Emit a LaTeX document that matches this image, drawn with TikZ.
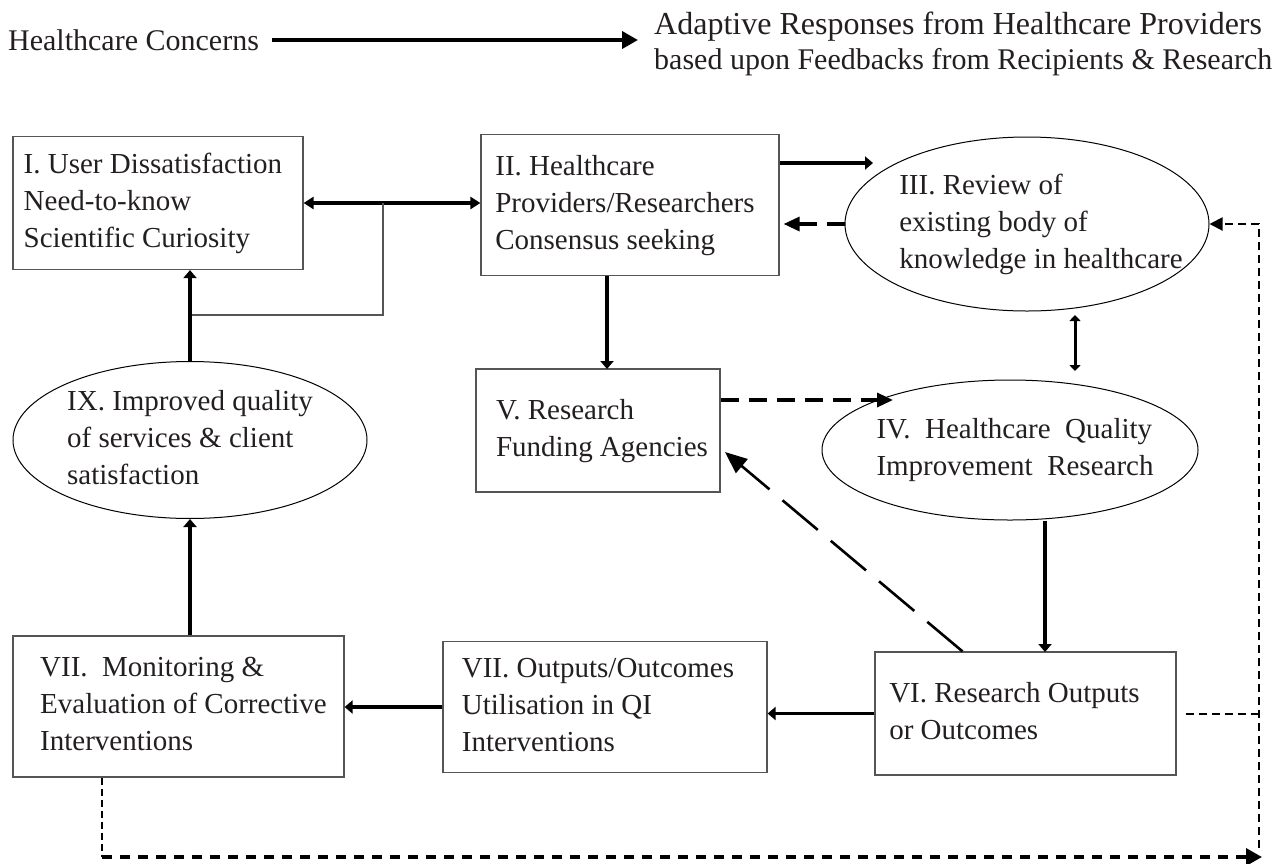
\documentclass[tikz,border=0pt]{standalone}
\usepackage{fontspec}
\setmainfont{Liberation Serif}
\usetikzlibrary{shapes.geometric,arrows.meta}

\newlength{\du}
\setlength{\du}{1pt}

\definecolor{dialinecolor}{rgb}{0.000000, 0.000000, 0.000000}
\definecolor{diatextcolor}{rgb}{0.137255, 0.121569, 0.125490}
\definecolor{diaboxcolor}{rgb}{0.333333, 0.333333, 0.333333}

% lines of a box or an ellipse, kept out of the shape's size
\newcommand{\dialines}[2][0pt]{\makebox[0pt]{\hspace{#1}\begin{tabular}{@{}l@{}}#2\end{tabular}}}

\tikzset{
  diabox/.style={draw=diaboxcolor, line width=1.2pt, inner sep=0pt,
    text=diatextcolor, font=\fontsize{29}{37}\selectfont},
  diaoval/.style={ellipse, draw=dialinecolor, line width=1pt, inner sep=0pt,
    text=diatextcolor, font=\fontsize{29}{37}\selectfont},
  diatext/.style={inner sep=0pt, align=left, text=diatextcolor,
    font=\fontsize{30}{35}\selectfont},
  boldarrow/.style={draw=dialinecolor, line width=3.6pt,
    -{Triangle[length=8pt,width=13pt]}},
  botharrow/.style={draw=dialinecolor, line width=3.3pt,
    {Triangle[length=10pt,width=12pt]}-{Triangle[length=10pt,width=12pt]}},
  dasharrow/.style={draw=dialinecolor, line width=3.3pt, dash pattern=on 18pt off 10pt,
    -{Triangle[length=16pt,width=14pt]}},
  loopline/.style={draw=dialinecolor, line width=2pt, dash pattern=on 8pt off 5pt}
}

\begin{document}
\begin{tikzpicture}
\pgftransformxscale{1.000000}
\pgftransformyscale{-1.000000}
\useasboundingbox (0\du,0\du) rectangle (1273\du,863\du);

% heading
\node[diatext, anchor=west] (concerns) at (8\du,40\du){Healthcare Concerns};
\node[diatext, anchor=west] (responses) at (654\du,44\du){{\fontsize{32}{35}\selectfont Adaptive Responses from Healthcare Providers}\\based upon Feedbacks from Recipients \& Research};
\draw[dialinecolor, line width=3.6pt, -{Triangle[length=16pt,width=17pt]}, shorten <=13pt, shorten >=16pt]
  (concerns.east) -- (concerns.east -| responses.west);

% boxes
\node[diabox, minimum width=290\du, minimum height=133\du] (dissat) at (158\du,203\du){\dialines[-10pt]{I. User Dissatisfaction\\Need-to-know\\Scientific Curiosity}};
\node[diabox, minimum width=298\du, minimum height=141\du] (providers) at (630\du,205\du){\dialines[-10pt]{II. Healthcare\\Providers/Researchers\\Consensus seeking}};
\node[diabox, minimum width=244\du, minimum height=123\du] (funding) at (598\du,430.5\du){\dialines[8pt]{V. Research\\Funding Agencies}};
\node[diabox, minimum width=301\du, minimum height=123\du] (outputs) at (1025.5\du,713.5\du){\dialines[-22pt]{VI. Research Outputs\\or Outcomes}};
\node[diabox, minimum width=324\du, minimum height=131\du] (utilise) at (605\du,707\du){\dialines[-14pt]{VII. Outputs/Outcomes\\Utilisation in QI\\Interventions}};
\node[diabox, minimum width=331\du, minimum height=141\du] (monitor) at (178.5\du,706.5\du){\dialines[10pt]{VII.\ \ Monitoring \&\\Evaluation of Corrective\\Interventions}};

% ellipses
\node[diaoval, minimum width=364\du, minimum height=174\du] (review) at (1027\du,224\du){\dialines[28pt]{III. Review of\\existing body of\\knowledge in healthcare}};
\node[diaoval, minimum width=376\du, minimum height=140\du] (quality) at (1010\du,450\du){\dialines[10pt]{IV.\ \ Healthcare\ \ Quality\\Improvement\ \ Research}};
\node[diaoval, minimum width=354\du, minimum height=154\du] (improved) at (190\du,440\du){\dialines{IX. Improved quality\\of services \& client\\satisfaction}};

% free ends
\coordinate (tee) at (383\du,315\du);
\coordinate (reviewtip) at (873\du,163\du);
\coordinate (fundingtop) at (607\du,369\du);
\coordinate (linkup) at (1075\du,315\du);
\coordinate (linkdown) at (1075\du,371\du);
\coordinate (qualitytip) at (893\du,400\du);
\coordinate (fundingtip) at (725\du,452\du);
\coordinate (outputstop) at (1045\du,652\du);
\coordinate (loopSW) at (102\du,857\du);
\coordinate (loopSE) at (1262\du,857\du);
\coordinate (loopNE) at (1259\du,848\du);

% solid connectors
\draw[botharrow] (dissat.east) -- (dissat.east -| providers.west);
\draw[draw=diaboxcolor, line width=1.2pt] (improved.north |- tee) -- (tee) -- (tee |- dissat.east);
\draw[boldarrow] (improved.north) -- (improved.north |- dissat.south);
\draw[boldarrow] (reviewtip -| providers.east) -- (reviewtip);
\draw[boldarrow] (fundingtop |- providers.south) -- (fundingtop);
\draw[draw=dialinecolor, line width=3pt, {Triangle[length=6pt,width=11pt]}-{Triangle[length=6pt,width=11pt]}] (linkup) -- (linkdown);
\draw[boldarrow] (outputstop |- quality.south) -- (outputstop);
\draw[boldarrow] (outputs.west) -- (outputs.west -| utilise.east);
\draw[boldarrow] (utilise.west) -- (utilise.west -| monitor.east);
\draw[boldarrow] (improved.south |- monitor.north) -- (improved.south);

% dashed connectors
\draw[dasharrow, shorten >=4pt] (review.west) -- (review.west -| providers.east);
\draw[dasharrow] (qualitytip -| funding.east) -- (qualitytip);
\draw[draw=dialinecolor, line width=2.6pt, dash pattern=on 46pt off 17pt, -{Triangle[length=22pt,width=18pt]}]
  ([xshift=-63\du]outputs.north) -- (fundingtip);

% feedback loop
\draw[loopline, dash pattern=on 7pt off 4pt] (loopSW |- monitor.south) -- (loopSW);
\draw[loopline, line width=3.6pt, dash pattern=on 10pt off 8pt, -{Triangle[length=16pt,width=17pt]}] (loopSW) -- (loopSE);
\draw[loopline, -{Triangle[length=13pt,width=13pt]}] (loopNE) -- (loopNE |- review.east) -- (review.east);
\draw[loopline, shorten <=9pt] (outputs.east) -- (outputs.east -| loopNE);
\end{tikzpicture}
\end{document}
